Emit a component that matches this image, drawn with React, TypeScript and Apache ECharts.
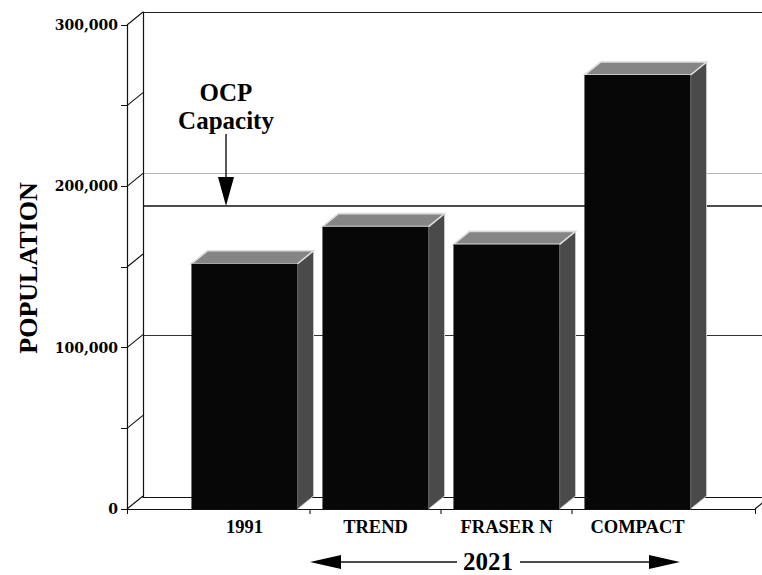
import React, { useEffect, useRef } from 'react';
import * as echarts from 'echarts';

// ---- data ----
const CATEGORIES = ['1991', 'TREND', 'FRASER N', 'COMPACT'];
const POPULATION = [152000, 175000, 164000, 269000];
const OCP_CAPACITY = 180000;
const Y_TICKS = [0, 50000, 100000, 150000, 200000, 250000, 300000];
const Y_MIN = 0;
const Y_MAX = 300000;
const GROUP_LABEL = '2021';
const Y_TITLE = 'POPULATION';
const OCP_LINES = ['OCP', 'Capacity'];

// ---- style ----
const SERIF = '"Liberation Serif", "Times New Roman", serif';
const WIDE_SERIF = '"DejaVu Serif", serif';
const DX = 16;
const DY = -13;
const INK = '#111';

export default function App() {
  const ref = useRef<HTMLDivElement>(null);

  useEffect(() => {
    if (!ref.current) return;
    const chart = echarts.init(ref.current, undefined, { renderer: 'svg' });

    const option: any = {
      animation: false,
      backgroundColor: '#ffffff',
      grid: [
        { left: 127, top: 25, width: 628, height: 484 }, // front plane
        { left: 143, top: 12, width: 628, height: 485 }, // back wall
        { left: 179, top: 25, width: 524, height: 484 }, // bars
      ],
      xAxis: [
        {
          gridIndex: 0, type: 'value', min: 0, max: 1, interval: 1,
          axisLine: { show: true, lineStyle: { color: INK, width: 1.2 } },
          axisTick: { show: true, length: 5, lineStyle: { color: INK } },
          axisLabel: { show: false }, splitLine: { show: false },
        },
        {
          gridIndex: 1, type: 'value', min: 0, max: 1,
          axisLine: { show: true, lineStyle: { color: INK, width: 1.2 } },
          axisTick: { show: false }, axisLabel: { show: false }, splitLine: { show: false },
        },
        {
          gridIndex: 2, type: 'category', data: CATEGORIES,
          axisLine: { show: false }, axisTick: { show: false },
          axisLabel: {
            color: '#000', fontFamily: SERIF, fontWeight: 'bold', fontSize: 18.5, margin: 8,
          },
        },
      ],
      yAxis: [
        {
          gridIndex: 0, type: 'value', min: Y_MIN, max: Y_MAX, interval: 50000,
          axisLine: { show: true, lineStyle: { color: INK, width: 1.2 } },
          axisTick: { show: true, length: 6, lineStyle: { color: INK } },
          axisLabel: {
            formatter: (v: number) => (v % 100000 === 0 ? v.toLocaleString('en-US') : ''),
            color: '#000', fontFamily: WIDE_SERIF, fontWeight: 'bold', fontSize: 14, margin: 9,
          },
          splitLine: { show: false },
        },
        {
          gridIndex: 1, type: 'value', min: Y_MIN, max: Y_MAX, interval: 100000,
          axisLine: { show: true, lineStyle: { color: INK, width: 1.2 } },
          axisTick: { show: false }, axisLabel: { show: false },
          splitLine: {
            show: true,
            lineStyle: { color: ['#222', '#333', '#b5b5b5', '#222'], width: 1.1 },
          },
        },
        { gridIndex: 2, type: 'value', min: Y_MIN, max: Y_MAX, show: false },
      ],
      series: [
        // OCP capacity line + annotation on the back wall
        {
          type: 'custom', xAxisIndex: 1, yAxisIndex: 1, z: 1, silent: true,
          data: [[0, OCP_CAPACITY]],
          renderItem: (params: any, api: any) => {
            const p = api.coord([api.value(0), api.value(1)]);
            const cs = params.coordSys;
            const ax = p[0] + 83;
            return {
              type: 'group',
              children: [
                { type: 'line', shape: { x1: cs.x, y1: p[1], x2: cs.x + cs.width, y2: p[1] }, style: { stroke: INK, lineWidth: 1.4 } },
                { type: 'line', shape: { x1: ax, y1: p[1] - 72, x2: ax, y2: p[1] - 28 }, style: { stroke: INK, lineWidth: 1.4 } },
                { type: 'polygon', shape: { points: [[ax - 8, p[1] - 29], [ax + 8, p[1] - 29], [ax, p[1]]] }, style: { fill: '#000' } },
                { type: 'text', x: ax, y: p[1] - 114, style: { text: OCP_LINES[0], fill: '#000', fontFamily: SERIF, fontWeight: 'bold', fontSize: 25, align: 'center', verticalAlign: 'middle' } },
                { type: 'text', x: ax, y: p[1] - 86, style: { text: OCP_LINES[1], fill: '#000', fontFamily: SERIF, fontWeight: 'bold', fontSize: 25, align: 'center', verticalAlign: 'middle' } },
              ],
            };
          },
        },
        // 3D connectors from the front axis to the back wall
        {
          type: 'custom', xAxisIndex: 0, yAxisIndex: 0, z: 1, silent: true,
          data: [...Y_TICKS.map((v) => [0, v]), [1, 0]],
          renderItem: (_params: any, api: any) => {
            const p = api.coord([api.value(0), api.value(1)]);
            return {
              type: 'line',
              shape: { x1: p[0], y1: p[1], x2: p[0] + DX, y2: p[1] + DY },
              style: { stroke: INK, lineWidth: 1.1 },
            };
          },
        },
        // 3D bars
        {
          type: 'custom', xAxisIndex: 2, yAxisIndex: 2, z: 3, silent: true,
          encode: { x: 0, y: 1 },
          data: POPULATION.map((v, i) => [i, v]),
          renderItem: (_params: any, api: any) => {
            const i = api.value(0);
            const v = api.value(1);
            const top = api.coord([i, v]);
            const base = api.coord([i, 0]);
            const band = api.size([1, 0])[0];
            const w = band * 0.81;
            const x0 = top[0] - w / 2;
            const x1 = top[0] + w / 2;
            const yt = top[1];
            const yb = base[1];
            const children: any[] = [
              {
                type: 'polygon',
                shape: { points: [[x1, yb], [x1, yt], [x1 + DX, yt + DY], [x1 + DX, yb + DY]] },
                style: { fill: '#4a4a4a', stroke: '#c9c9c9', lineWidth: 1 },
              },
              {
                type: 'polygon',
                shape: { points: [[x0, yt], [x1, yt], [x1 + DX, yt + DY], [x0 + DX, yt + DY]] },
                style: { fill: '#858585', stroke: '#dcdcdc', lineWidth: 1.6 },
              },
              {
                type: 'rect',
                shape: { x: x0, y: yt, width: w, height: yb - yt },
                style: { fill: '#070707' },
              },
            ];
            if (i > 0) {
              const bx = top[0] - band / 2;
              children.push({
                type: 'line',
                shape: { x1: bx, y1: yb, x2: bx, y2: yb + 5 },
                style: { stroke: INK, lineWidth: 1.1 },
              });
            }
            return { type: 'group', children };
          },
        },
      ],
      graphic: [
        {
          type: 'text', x: 28, y: 268, rotation: Math.PI / 2,
          style: { text: Y_TITLE, fill: '#000', fontFamily: SERIF, fontWeight: 'bold', fontSize: 26, align: 'center', verticalAlign: 'middle' },
        },
        {
          type: 'text', x: 488, y: 561,
          style: { text: GROUP_LABEL, fill: '#000', fontFamily: SERIF, fontWeight: 'bold', fontSize: 25, align: 'center', verticalAlign: 'middle' },
        },
        { type: 'line', shape: { x1: 338, y1: 562, x2: 457, y2: 562 }, style: { stroke: INK, lineWidth: 1.4 } },
        { type: 'polygon', shape: { points: [[310, 562], [341, 555], [341, 569]] }, style: { fill: '#000' } },
        { type: 'line', shape: { x1: 520, y1: 562, x2: 652, y2: 562 }, style: { stroke: INK, lineWidth: 1.4 } },
        { type: 'polygon', shape: { points: [[680, 562], [649, 555], [649, 569]] }, style: { fill: '#000' } },
      ],
    };

    chart.setOption(option);
    return () => chart.dispose();
  }, []);

  return (
    <div
      ref={ref}
      style={{ position: 'absolute', left: 0, top: 0, width: 762, height: 575, background: '#fff' }}
    />
  );
}
